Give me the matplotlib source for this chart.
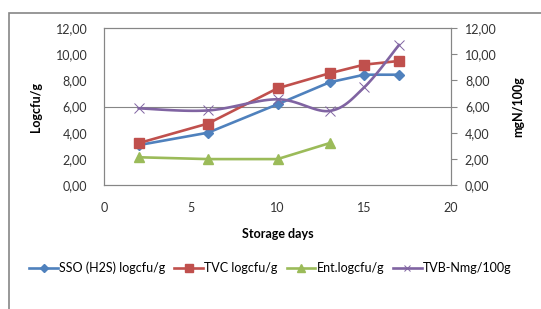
import numpy as np
import matplotlib
matplotlib.use("Agg")
import matplotlib.pyplot as plt
from matplotlib.patches import Rectangle

plt.rcParams['font.family'] = ['Lato', 'DejaVu Sans']

days = [2, 6, 10, 13, 15, 17]
sso = [3.05, 4.0, 6.17, 7.85, 8.43, 8.43]
tvc = [3.2, 4.7, 7.39, 8.54, 9.2, 9.48]
ent_days = [2, 6, 10, 13]
ent = [2.12, 1.98, 1.98, 3.2]
tvb = [5.86, 5.7, 6.55, 5.66, 7.47, 10.7]

x_ticks = [0, 5, 10, 15, 20]
y_ticks = [0, 2, 4, 6, 8, 10, 12]

BLUE = '#4F81BD'
RED = '#C0504D'
GREEN = '#9BBB59'
PURPLE = '#8064A2'
GRAY = '#868686'


def smooth(xs, ys, n=20):
    # catmull-rom curve through the points, like excel's smoothed line
    xs = np.asarray(xs, float)
    ys = np.asarray(ys, float)
    px = np.concatenate([[xs[0]], xs, [xs[-1]]])
    py = np.concatenate([[ys[0]], ys, [ys[-1]]])
    out_x, out_y = [], []
    for i in range(1, len(px) - 2):
        t = np.linspace(0, 1, n)
        for p, out in ((px, out_x), (py, out_y)):
            p0, p1, p2, p3 = p[i - 1], p[i], p[i + 1], p[i + 2]
            out.extend(0.5 * (2 * p1 + (-p0 + p2) * t
                              + (2 * p0 - 5 * p1 + 4 * p2 - p3) * t ** 2
                              + (-p0 + 3 * p1 - 3 * p2 + p3) * t ** 3))
    return out_x, out_y


fig = plt.figure(figsize=(5.41, 3.09), dpi=100)
fig.patches.append(Rectangle((9 / 541, -0.1), 1.2, 1 - 13 / 309 + 0.1,
                             transform=fig.transFigure, fill=False,
                             edgecolor=GRAY, linewidth=1.2))

ax = fig.add_axes([104 / 541, 1 - 185 / 309, 347 / 541, 157 / 309])
ax2 = ax.twinx()

ax.plot(days, sso, color=BLUE, lw=1.9, marker='D', ms=5, label='SSO (H2S) logcfu/g')
ax.plot(days, tvc, color=RED, lw=1.9, marker='s', ms=7.5, label='TVC logcfu/g')
ax.plot(ent_days, ent, color=GREEN, lw=1.9, marker='^', ms=7, label='Ent.logcfu/g')

sx, sy = smooth(days, tvb)
ax2.plot(sx, sy, color=PURPLE, lw=1.9)
ax2.plot(days, tvb, color=PURPLE, lw=0, marker='x', ms=7, mew=0.7)
tvb_handle = plt.Line2D([], [], color=PURPLE, lw=1.9, marker='x', ms=6, mew=0.7)

ax.axhline(6, color=GRAY, lw=0.8, zorder=0)

for a in (ax, ax2):
    a.set_xlim(0, 20)
    a.set_ylim(0, 12)
    a.set_yticks(y_ticks)
    a.set_yticklabels([('%.2f' % v).replace('.', ',') for v in y_ticks])
    for s in a.spines.values():
        s.set_color(GRAY)
        s.set_linewidth(0.8)

ax.set_xticks(x_ticks)
ax.tick_params(axis='x', length=0, labelsize=9, pad=12, colors='#333333')
ax.tick_params(axis='y', length=0, labelsize=9, pad=12, colors='#333333')
ax2.tick_params(axis='y', length=4, labelsize=9, pad=6, colors='#333333', color=GRAY)

ax.set_xlabel('Storage days', fontsize=9, fontweight='bold', labelpad=10)
ax.set_ylabel('Logcfu/g', fontsize=9, fontweight='bold', labelpad=10)
ax2.set_ylabel('mgN/100g', fontsize=9, fontweight='bold', labelpad=11)

handles, labels = ax.get_legend_handles_labels()
handles.append(tvb_handle)
labels.append('TVB-Nmg/100g')
leg = fig.legend(handles, labels, loc='center', bbox_to_anchor=(0.5, 1 - 268 / 309),
                 ncol=4, frameon=False, fontsize=9, handlelength=2.3,
                 handletextpad=0.1, columnspacing=0.7, borderpad=0, markerscale=0.75)

fig.savefig('out.png', dpi=100)
